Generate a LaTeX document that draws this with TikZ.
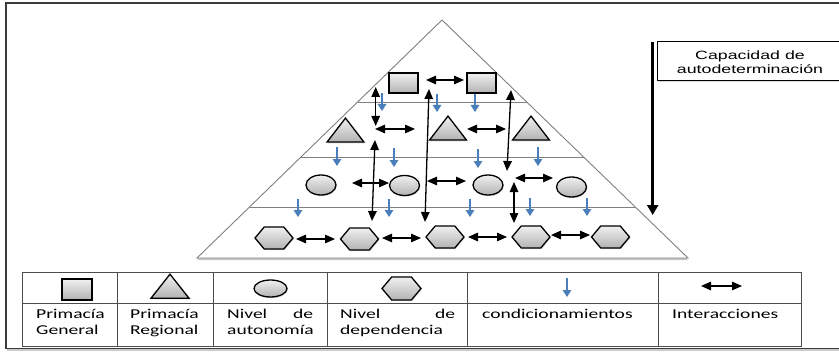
\documentclass[tikz,border=0pt]{standalone}
\usepackage{fontspec}
\newfontfamily\tabfont{Carlito}[FakeStretch=1.45]
\newfontfamily\capfont{Liberation Sans}[FakeStretch=1.48]
\usetikzlibrary{shapes.geometric,shapes.symbols,arrows.meta,shadows,calc}
\definecolor{condblue}{HTML}{4A7EBB}
\definecolor{pyrgray}{HTML}{808080}
\definecolor{framegray}{HTML}{3A3A3A}
\begin{document}
\begin{tikzpicture}[x=1pt,y=-1pt,
  shp/.style={draw=black, line width=1.3pt, top color=gray!12, bottom color=gray!60,
    inner sep=0pt, outer sep=0pt,
    drop shadow={opacity=0.3, shadow xshift=0.8pt, shadow yshift=-1.2pt}},
  sqbox/.style={shp, rectangle, minimum width=29pt, minimum height=20pt},
  tribox/.style={shp, isosceles triangle, isosceles triangle stretches,
    shape border rotate=90, minimum width=37pt, minimum height=24pt},
  circbox/.style={shp, ellipse, minimum width=30pt, minimum height=20pt},
  hexbox/.style={shp, signal, signal to=east and west, signal from=nowhere,
    signal pointer angle=100, minimum width=38pt, minimum height=22pt},
  inter/.style={black, line width=1.3pt,
    {Triangle[length=10pt,width=8.5pt]}-{Triangle[length=10pt,width=8.5pt]}},
  cond/.style={condblue, line width=1.4pt, -{Triangle[length=7pt,width=8.5pt]}},
  lvl/.style={pyrgray, line width=0.9pt},
  tabline/.style={draw=black!70, line width=0.8pt},
  tabtxt/.style={font=\tabfont\fontsize{13.5}{15.5}\selectfont, anchor=base west, inner sep=0pt},
  captxt/.style={font=\capfont\fontsize{12}{14.7}\selectfont, anchor=base, inner sep=0pt},
]
\useasboundingbox (0,0) rectangle (839,353);
\clip (0,0) rectangle (839,353);

% outer frame
\draw[draw=framegray, line width=1.5pt, fill=white,
  drop shadow={opacity=0.4, shadow xshift=0.8pt, shadow yshift=-2pt}] (6,3) rectangle (860,348.5);

% pyramid
\coordinate (apex) at (442,20);
\coordinate (bl) at (197,258);
\coordinate (br) at (688,258);
\draw[lvl, fill=white, drop shadow={opacity=0.45, shadow xshift=0pt, shadow yshift=-2pt}]
  (apex) -- (br) -- (bl) -- cycle;
\foreach \t in {0.3445,0.5756,0.7857}
  \draw[lvl] ($(apex)!\t!(bl)$) -- ($(apex)!\t!(br)$);

% shapes
\node[sqbox] (sq1) at (403.5,83) {};
\node[sqbox] (sq2) at (481.5,83) {};
\node[tribox] (tr1) at (345.5,133) {};
\node[tribox] (tr2) at (448,131) {};
\node[tribox] (tr3) at (531,131) {};
\node[circbox] (c1) at (321,185) {};
\node[circbox] (c2) at (404.5,185.5) {};
\node[circbox] (c3) at (488,185) {};
\node[circbox] (c4) at (571.5,187) {};
\node[hexbox] (h1) at (274,238) {};
\node[hexbox] (h2) at (359.5,239) {};
\node[hexbox] (h3) at (445,237) {};
\node[hexbox] (h4) at (531,237) {};
\node[hexbox] (h5) at (610.5,237) {};

% horizontal interactions
\foreach \n/\xa/\xb/\yy in {1/426/464/80, 2/375/415/129, 3/467/506/129,
  4/352/389/183, 5/427/466/181, 6/515/553/178,
  7/296/335/239, 8/382/421/238, 9/468/507/237, 10/551/590/235}{
  \coordinate (ha\n) at (\xa,\yy);
  \coordinate (hb\n) at (\xb,\yy);
  \draw[inter] (ha\n) -- (hb\n);
}
% vertical interactions
\foreach \n/\xa/\ya/\xb/\yb in {1/375.7/87/375.7/126, 2/375/140/372/221,
  3/429/89/425/222, 4/511/90/507/171, 5/514/182/514/223}{
  \coordinate (va\n) at (\xa,\ya);
  \coordinate (vb\n) at (\xb,\yb);
  \draw[inter] (va\n) -- (vb\n);
}
% conditionings
\foreach \n/\xx/\ya/\yb in {1/382/93/111, 2/437/94/112, 3/475/94/112,
  4/337/147/166, 5/394/148/167, 6/478/149/168, 7/538/147/166,
  8/298/199/217, 9/389/199/217, 10/470/199/217, 11/530/198/216, 12/587/198/216}{
  \coordinate (ca\n) at (\xx,\ya);
  \coordinate (cb\n) at (\xx,\yb);
  \draw[cond] (ca\n) -- (cb\n);
}

% capacidad
\coordinate (capA) at (652.7,42);
\coordinate (capB) at (652.7,215);
\draw[black, line width=3.5pt, -{Triangle[length=10pt,width=11pt]}] (capA) -- (capB);
\node[draw=black, line width=1pt, fill=white, minimum width=186pt, minimum height=39pt,
  drop shadow={opacity=0.3, shadow xshift=0.8pt, shadow yshift=-1.2pt}] (capbox) at (750,61.5) {};
\node[captxt] (cap1) at (750,59.3) {Capacidad de};
\node[captxt] (cap2) at (750,74) {autodeterminación};

% legend table
\draw[tabline] (22,272.5) rectangle (801,346);
\draw[tabline] (22,303.5) -- (801,303.5);
\foreach \xx in {117,213,327,467,658}
  \draw[tabline] (\xx,272.5) -- (\xx,346);

\node[sqbox, minimum width=30pt, minimum height=21pt] (lsq) at (77,289.5) {};
\node[tribox, minimum width=38pt, minimum height=24pt] (ltr) at (170,289) {};
\node[circbox, minimum width=33pt, minimum height=17pt] (lci) at (270.5,288.5) {};
\node[hexbox, minimum width=39pt, minimum height=23pt] (lhx) at (401.5,288.5) {};
\coordinate (lca) at (567,278);
\coordinate (lcb) at (567,297);
\draw[cond] (lca) -- (lcb);
\coordinate (lia) at (701,286);
\coordinate (lib) at (742,286);
\draw[inter] (lia) -- (lib);

\node[tabtxt] (t1a) at (36,318.5) {Primacía};
\node[tabtxt] (t1b) at (36,334) {General};
\node[tabtxt] (t2a) at (130,318.5) {Primacía};
\node[tabtxt] (t2b) at (130,334) {Regional};
\node[tabtxt] (t3a) at (227,318.5) {\hbox to 86pt{Nivel\hfill de}};
\node[tabtxt] (t3b) at (227,334) {autonomía};
\node[tabtxt] (t4a) at (340,318.5) {\hbox to 115pt{Nivel\hfill de}};
\node[tabtxt] (t4b) at (340,334) {dependencia};
\node[tabtxt] (t5a) at (482,318.5) {condicionamientos};
\node[tabtxt] (t6a) at (672,318.5) {Interacciones};
\end{tikzpicture}
\end{document}
